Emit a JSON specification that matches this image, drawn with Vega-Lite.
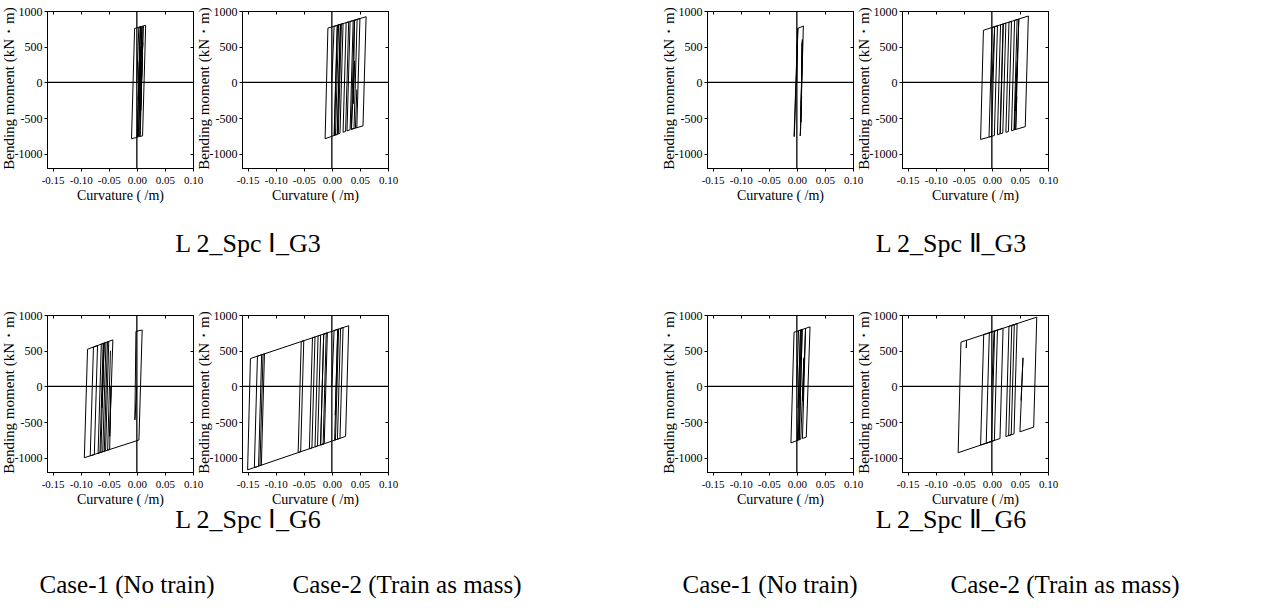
{
"$schema":"https://vega.github.io/schema/vega-lite/v6.json",
"padding":{"left":0,"top":4,"right":5,"bottom":5},
"background":"white",
"config":{
 "font":"Liberation Serif",
 "view":{"stroke":"black","strokeWidth":1},
 "axis":{"grid":false,"domainColor":"black","tickColor":"black","labelColor":"black","titleColor":"black","labelFont":"Liberation Serif","titleFont":"Liberation Serif","labelFontSize":12,"titleFontSize":14,"titleFontWeight":"normal","tickSize":3,"labelPadding":2,"domainWidth":1,"labelOverlap":false,"labelFlush":false},
 "axisY":{"titleFontSize":15,"titlePadding":-2,"titleY":77},
 "axisX":{"labelPadding":3,"titlePadding":3,"labelFontSize":11},
 "text":{"font":"Liberation Serif","color":"black"}
},
"datasets":{
"d1":[{"i":0,"x":0,"y":0},{"i":1,"x":0.0035,"y":772},{"i":2,"x":0.006,"y":778},{"i":3,"x":0.0005,"y":-770},{"i":4,"x":-0.0095,"y":-790},{"i":5,"x":-0.004,"y":755},{"i":6,"x":0.0157,"y":800},{"i":7,"x":0.0102,"y":-750},{"i":8,"x":0.006,"y":-758},{"i":9,"x":0.0113,"y":790},{"i":10,"x":0.0068,"y":-400},{"i":11,"x":0.0105,"y":560},{"i":12,"x":0.005,"y":-760},{"i":13,"x":0.0035,"y":-763},{"i":14,"x":0.009,"y":784},{"i":15,"x":0.0045,"y":-300},{"i":16,"x":0.0075,"y":500},{"i":17,"x":0.0025,"y":-765},{"i":18,"x":0.001,"y":-768},{"i":19,"x":0.0065,"y":780},{"i":20,"x":0.0025,"y":-250},{"i":21,"x":0.0045,"y":300}],
"d2":[{"i":0,"x":0,"y":0},{"i":1,"x":0.004,"y":786},{"i":2,"x":0.010,"y":800},{"i":3,"x":0.0045,"y":-743},{"i":4,"x":-0.012,"y":-790},{"i":5,"x":-0.007,"y":760},{"i":6,"x":0.015,"y":812},{"i":7,"x":0.0095,"y":-729},{"i":8,"x":0.004,"y":-745},{"i":9,"x":0.0095,"y":799},{"i":10,"x":0.0155,"y":813},{"i":11,"x":0.010,"y":-728},{"i":12,"x":0.0065,"y":-738},{"i":13,"x":0.012,"y":805},{"i":14,"x":0.020,"y":824},{"i":15,"x":0.0145,"y":-715},{"i":16,"x":0.0115,"y":-724},{"i":17,"x":0.017,"y":817},{"i":18,"x":0.030,"y":847},{"i":19,"x":0.0245,"y":-687},{"i":20,"x":0.020,"y":-699},{"i":21,"x":0.0255,"y":837},{"i":22,"x":0.038,"y":866},{"i":23,"x":0.0325,"y":-664},{"i":24,"x":0.027,"y":-680},{"i":25,"x":0.0325,"y":853},{"i":26,"x":0.045,"y":882},{"i":27,"x":0.0395,"y":-645},{"i":28,"x":0.0345,"y":-658},{"i":29,"x":0.040,"y":871},{"i":30,"x":0.061,"y":920},{"i":31,"x":0.0555,"y":-610},{"i":32,"x":0.035,"y":-657},{"i":33,"x":0.0405,"y":300},{"i":34,"x":0.038,"y":-300},{"i":35,"x":0.0405,"y":872},{"i":36,"x":0.050,"y":894},{"i":37,"x":0.0445,"y":-630},{"i":38,"x":0.042,"y":-637},{"i":39,"x":0.0445,"y":-100}],
"d3":[{"i":0,"x":0,"y":0},{"i":1,"x":0.0015,"y":755},{"i":2,"x":0.002,"y":757},{"i":3,"x":-0.0045,"y":-758},{"i":4,"x":-0.005,"y":-761},{"i":5,"x":0.0015,"y":755},{"i":6,"x":0.0116,"y":790},{"i":7,"x":0.0065,"y":-700},{"i":8,"x":0.006,"y":-750},{"i":9,"x":0.0085,"y":-200},{"i":10,"x":0.0075,"y":-400},{"i":11,"x":0.0095,"y":560},{"i":12,"x":0.0072,"y":-560},{"i":13,"x":0.0098,"y":600},{"i":14,"x":0.0078,"y":-300}],
"d4":[{"i":0,"x":0,"y":0},{"i":1,"x":0.005,"y":780},{"i":2,"x":-0.0005,"y":-756},{"i":3,"x":-0.02,"y":-800},{"i":4,"x":-0.015,"y":730},{"i":5,"x":0.010,"y":793},{"i":6,"x":0.0045,"y":-745},{"i":7,"x":-0.005,"y":-766},{"i":8,"x":0.0005,"y":769},{"i":9,"x":0.020,"y":818},{"i":10,"x":0.0145,"y":-722},{"i":11,"x":0.010,"y":-733},{"i":12,"x":0.0155,"y":806},{"i":13,"x":0.025,"y":830},{"i":14,"x":0.0195,"y":-711},{"i":15,"x":0.015,"y":-721},{"i":16,"x":0.0205,"y":819},{"i":17,"x":0.035,"y":855},{"i":18,"x":0.0295,"y":-689},{"i":19,"x":0.025,"y":-700},{"i":20,"x":0.0305,"y":843},{"i":21,"x":0.045,"y":880},{"i":22,"x":0.0395,"y":-666},{"i":23,"x":0.035,"y":-677},{"i":24,"x":0.0405,"y":869},{"i":25,"x":0.065,"y":930},{"i":26,"x":0.0595,"y":-621},{"i":27,"x":0.040,"y":-665},{"i":28,"x":0.0455,"y":300},{"i":29,"x":0.042,"y":-400},{"i":30,"x":0.048,"y":888},{"i":31,"x":0.0425,"y":-660},{"i":32,"x":0.0445,"y":-200}],
"d5":[{"i":0,"x":0,"y":0},{"i":1,"x":-0.0035,"y":-470},{"i":2,"x":-0.0016,"y":770},{"i":3,"x":0.0095,"y":790},{"i":4,"x":0.0037,"y":-752},{"i":5,"x":-0.0935,"y":-1000},{"i":6,"x":-0.0878,"y":521},{"i":7,"x":-0.070,"y":572},{"i":8,"x":-0.0757,"y":-955},{"i":9,"x":-0.083,"y":-973},{"i":10,"x":-0.0773,"y":551},{"i":11,"x":-0.060,"y":601},{"i":12,"x":-0.0657,"y":-929},{"i":13,"x":-0.069,"y":-938},{"i":14,"x":-0.0633,"y":593},{"i":15,"x":-0.055,"y":616},{"i":16,"x":-0.0607,"y":-916},{"i":17,"x":-0.064,"y":-925},{"i":18,"x":-0.0583,"y":606},{"i":19,"x":-0.062,"y":-300},{"i":20,"x":-0.0583,"y":606},{"i":21,"x":-0.050,"y":630},{"i":22,"x":-0.0557,"y":-904},{"i":23,"x":-0.058,"y":-910},{"i":24,"x":-0.0523,"y":623},{"i":25,"x":-0.0427,"y":651},{"i":26,"x":-0.0484,"y":-700},{"i":27,"x":-0.046,"y":0},{"i":28,"x":-0.0484,"y":-885},{"i":29,"x":-0.052,"y":-894},{"i":30,"x":-0.047,"y":500}],
"d6":[{"i":0,"x":0,"y":0},{"i":1,"x":0.004,"y":782},{"i":2,"x":0.012,"y":803},{"i":3,"x":0.0065,"y":-750},{"i":4,"x":-0.020,"y":-821},{"i":5,"x":-0.0145,"y":733},{"i":6,"x":-0.008,"y":750},{"i":7,"x":-0.0135,"y":-803},{"i":8,"x":-0.150,"y":-1170},{"i":9,"x":-0.145,"y":390},{"i":10,"x":-0.125,"y":443},{"i":11,"x":-0.1305,"y":-1118},{"i":12,"x":-0.138,"y":-1138},{"i":13,"x":-0.1325,"y":423},{"i":14,"x":-0.120,"y":456},{"i":15,"x":-0.1255,"y":-1104},{"i":16,"x":-0.128,"y":-1111},{"i":17,"x":-0.1225,"y":449},{"i":18,"x":-0.050,"y":640},{"i":19,"x":-0.0555,"y":-916},{"i":20,"x":-0.060,"y":-928},{"i":21,"x":-0.0545,"y":628},{"i":22,"x":-0.030,"y":692},{"i":23,"x":-0.0355,"y":-862},{"i":24,"x":-0.040,"y":-875},{"i":25,"x":-0.0345,"y":681},{"i":26,"x":-0.020,"y":719},{"i":27,"x":-0.0255,"y":-836},{"i":28,"x":-0.030,"y":-848},{"i":29,"x":-0.0245,"y":707},{"i":30,"x":-0.010,"y":745},{"i":31,"x":-0.0155,"y":-809},{"i":32,"x":-0.020,"y":-821},{"i":33,"x":-0.0145,"y":733},{"i":34,"x":0.030,"y":850},{"i":35,"x":0.0245,"y":-701},{"i":36,"x":0.010,"y":-740},{"i":37,"x":0.0155,"y":812},{"i":38,"x":0.020,"y":824},{"i":39,"x":0.0145,"y":-728},{"i":40,"x":0.005,"y":-754},{"i":41,"x":0.0105,"y":800},{"i":42,"x":0.006,"y":-400}],
"d7":[{"i":0,"x":0,"y":0},{"i":1,"x":0.003,"y":779},{"i":2,"x":0.008,"y":793},{"i":3,"x":0.0025,"y":-753},{"i":4,"x":-0.0105,"y":-792},{"i":5,"x":-0.005,"y":758},{"i":6,"x":0.0235,"y":834},{"i":7,"x":0.0168,"y":-711},{"i":8,"x":0.010,"y":-731},{"i":9,"x":0.0155,"y":813},{"i":10,"x":0.0105,"y":-200},{"i":11,"x":0.0125,"y":400},{"i":12,"x":0.007,"y":-740},{"i":13,"x":0.004,"y":-749},{"i":14,"x":0.0095,"y":797},{"i":15,"x":0.0045,"y":-748},{"i":16,"x":0.001,"y":-758},{"i":17,"x":0.0065,"y":789},{"i":18,"x":0.002,"y":-300}],
"d8":[{"i":0,"x":0,"y":0},{"i":1,"x":0.004,"y":773},{"i":2,"x":0.010,"y":789},{"i":3,"x":0.0045,"y":-758},{"i":4,"x":-0.010,"y":-797},{"i":5,"x":-0.0045,"y":751},{"i":6,"x":0.020,"y":815},{"i":7,"x":0.0145,"y":-731},{"i":8,"x":-0.020,"y":-823},{"i":9,"x":-0.0145,"y":725},{"i":10,"x":0.005,"y":776},{"i":11,"x":-0.0005,"y":-771},{"i":12,"x":-0.060,"y":-930},{"i":13,"x":-0.055,"y":620},{"i":14,"x":-0.045,"y":646},{"i":15,"x":-0.0455,"y":540},{"i":16,"x":-0.045,"y":646},{"i":17,"x":0.040,"y":866},{"i":18,"x":0.0345,"y":-678},{"i":19,"x":0.025,"y":-703},{"i":20,"x":0.0305,"y":842},{"i":21,"x":0.045,"y":879},{"i":22,"x":0.0395,"y":-665},{"i":23,"x":0.030,"y":-690},{"i":24,"x":0.0355,"y":855},{"i":25,"x":0.080,"y":970},{"i":26,"x":0.0745,"y":-571},{"i":27,"x":0.050,"y":-637},{"i":28,"x":0.0555,"y":400},{"i":29,"x":0.052,"y":-200}],
"zero":[{"z":0}],
"blank":[{"t":""}]
},
"concat":[
 {"width":146,"height":157,"resolve":{"axis":{"x":"independent","y":"independent"}},"layer":[
  {"data":{"name":"d1"},"mark":{"type":"line","color":"black","strokeWidth":1},"encoding":{"x":{"field":"x","type":"quantitative","scale":{"domain":[-0.16,0.1],"nice":false,"zero":false},"axis":{"title":"Curvature ( /m)","values":[-0.15,-0.1,-0.05,0,0.05,0.1],"labelExpr":"datum.value < 0 ? '-' + format(-datum.value, '.2f') : format(datum.value, '.2f')"}},"y":{"field":"y","type":"quantitative","scale":{"domain":[-1200,1000],"nice":false,"zero":false},"axis":{"title":"Bending moment (kN・m)","values":[-1000,-500,0,500,1000],"labelExpr":"datum.value < 0 ? '-' + format(-datum.value, 'd') : format(datum.value, 'd')"}},"order":{"field":"i","type":"quantitative"}}},
  {"data":{"name":"zero"},"mark":{"type":"rule","color":"black","strokeWidth":1.3},"encoding":{"y":{"field":"z","type":"quantitative","axis":{"orient":"right","labels":false,"title":null,"tickSize":-3,"values":[-1000,-500,500,1000]}}}},
  {"data":{"name":"zero"},"mark":{"type":"rule","color":"black","strokeWidth":1.3},"encoding":{"x":{"field":"z","type":"quantitative","axis":{"orient":"top","labels":false,"title":null,"tickSize":-3,"values":[-0.15,-0.1,-0.05,0.05,0.1]}}}}
 ]},
 {"width":146,"height":157,"resolve":{"axis":{"x":"independent","y":"independent"}},"layer":[
  {"data":{"name":"d2"},"mark":{"type":"line","color":"black","strokeWidth":1},"encoding":{"x":{"field":"x","type":"quantitative","scale":{"domain":[-0.16,0.1],"nice":false,"zero":false},"axis":{"title":"Curvature ( /m)","values":[-0.15,-0.1,-0.05,0,0.05,0.1],"labelExpr":"datum.value < 0 ? '-' + format(-datum.value, '.2f') : format(datum.value, '.2f')"}},"y":{"field":"y","type":"quantitative","scale":{"domain":[-1200,1000],"nice":false,"zero":false},"axis":{"title":"Bending moment (kN・m)","values":[-1000,-500,0,500,1000],"labelExpr":"datum.value < 0 ? '-' + format(-datum.value, 'd') : format(datum.value, 'd')"}},"order":{"field":"i","type":"quantitative"}}},
  {"data":{"name":"zero"},"mark":{"type":"rule","color":"black","strokeWidth":1.3},"encoding":{"y":{"field":"z","type":"quantitative","axis":{"orient":"right","labels":false,"title":null,"tickSize":-3,"values":[-1000,-500,500,1000]}}}},
  {"data":{"name":"zero"},"mark":{"type":"rule","color":"black","strokeWidth":1.3},"encoding":{"x":{"field":"z","type":"quantitative","axis":{"orient":"top","labels":false,"title":null,"tickSize":-3,"values":[-0.15,-0.1,-0.05,0.05,0.1]}}}}
 ]},
 {"width":221,"height":1,"view":{"stroke":null},"data":{"name":"blank"},"mark":"text","encoding":{"text":{"field":"t"}}},
 {"width":146,"height":157,"resolve":{"axis":{"x":"independent","y":"independent"}},"layer":[
  {"data":{"name":"d3"},"mark":{"type":"line","color":"black","strokeWidth":1},"encoding":{"x":{"field":"x","type":"quantitative","scale":{"domain":[-0.16,0.1],"nice":false,"zero":false},"axis":{"title":"Curvature ( /m)","values":[-0.15,-0.1,-0.05,0,0.05,0.1],"labelExpr":"datum.value < 0 ? '-' + format(-datum.value, '.2f') : format(datum.value, '.2f')"}},"y":{"field":"y","type":"quantitative","scale":{"domain":[-1200,1000],"nice":false,"zero":false},"axis":{"title":"Bending moment (kN・m)","values":[-1000,-500,0,500,1000],"labelExpr":"datum.value < 0 ? '-' + format(-datum.value, 'd') : format(datum.value, 'd')"}},"order":{"field":"i","type":"quantitative"}}},
  {"data":{"name":"zero"},"mark":{"type":"rule","color":"black","strokeWidth":1.3},"encoding":{"y":{"field":"z","type":"quantitative","axis":{"orient":"right","labels":false,"title":null,"tickSize":-3,"values":[-1000,-500,500,1000]}}}},
  {"data":{"name":"zero"},"mark":{"type":"rule","color":"black","strokeWidth":1.3},"encoding":{"x":{"field":"z","type":"quantitative","axis":{"orient":"top","labels":false,"title":null,"tickSize":-3,"values":[-0.15,-0.1,-0.05,0.05,0.1]}}}}
 ]},
 {"width":146,"height":157,"resolve":{"axis":{"x":"independent","y":"independent"}},"layer":[
  {"data":{"name":"d4"},"mark":{"type":"line","color":"black","strokeWidth":1},"encoding":{"x":{"field":"x","type":"quantitative","scale":{"domain":[-0.16,0.1],"nice":false,"zero":false},"axis":{"title":"Curvature ( /m)","values":[-0.15,-0.1,-0.05,0,0.05,0.1],"labelExpr":"datum.value < 0 ? '-' + format(-datum.value, '.2f') : format(datum.value, '.2f')"}},"y":{"field":"y","type":"quantitative","scale":{"domain":[-1200,1000],"nice":false,"zero":false},"axis":{"title":"Bending moment (kN・m)","values":[-1000,-500,0,500,1000],"labelExpr":"datum.value < 0 ? '-' + format(-datum.value, 'd') : format(datum.value, 'd')"}},"order":{"field":"i","type":"quantitative"}}},
  {"data":{"name":"zero"},"mark":{"type":"rule","color":"black","strokeWidth":1.3},"encoding":{"y":{"field":"z","type":"quantitative","axis":{"orient":"right","labels":false,"title":null,"tickSize":-3,"values":[-1000,-500,500,1000]}}}},
  {"data":{"name":"zero"},"mark":{"type":"rule","color":"black","strokeWidth":1.3},"encoding":{"x":{"field":"z","type":"quantitative","axis":{"orient":"top","labels":false,"title":null,"tickSize":-3,"values":[-0.15,-0.1,-0.05,0.05,0.1]}}}}
 ]},

 {"width":146,"height":139,"view":{"stroke":null},"data":{"name":"blank"},"mark":"text","encoding":{"text":{"field":"t"}}},
 {"width":146,"height":139,"view":{"stroke":null},"data":{"values":[{"t":"L 2_Spc Ⅰ_G3"}]},"mark":{"type":"text","fontSize":26,"dx":-67,"dy":2},"encoding":{"text":{"field":"t"}}},
 {"width":1,"height":1,"view":{"stroke":null},"data":{"name":"blank"},"mark":"text","encoding":{"text":{"field":"t"}}},
 {"width":146,"height":139,"view":{"stroke":null},"data":{"name":"blank"},"mark":"text","encoding":{"text":{"field":"t"}}},
 {"width":146,"height":139,"view":{"stroke":null},"data":{"values":[{"t":"L 2_Spc Ⅱ_G3"}]},"mark":{"type":"text","fontSize":26,"dx":-24,"dy":2},"encoding":{"text":{"field":"t"}}},

 {"width":146,"height":157,"resolve":{"axis":{"x":"independent","y":"independent"}},"layer":[
  {"data":{"name":"d5"},"mark":{"type":"line","color":"black","strokeWidth":1},"encoding":{"x":{"field":"x","type":"quantitative","scale":{"domain":[-0.16,0.1],"nice":false,"zero":false},"axis":{"title":"Curvature ( /m)","values":[-0.15,-0.1,-0.05,0,0.05,0.1],"labelExpr":"datum.value < 0 ? '-' + format(-datum.value, '.2f') : format(datum.value, '.2f')"}},"y":{"field":"y","type":"quantitative","scale":{"domain":[-1200,1000],"nice":false,"zero":false},"axis":{"title":"Bending moment (kN・m)","values":[-1000,-500,0,500,1000],"labelExpr":"datum.value < 0 ? '-' + format(-datum.value, 'd') : format(datum.value, 'd')"}},"order":{"field":"i","type":"quantitative"}}},
  {"data":{"name":"zero"},"mark":{"type":"rule","color":"black","strokeWidth":1.3},"encoding":{"y":{"field":"z","type":"quantitative","axis":{"orient":"right","labels":false,"title":null,"tickSize":-3,"values":[-1000,-500,500,1000]}}}},
  {"data":{"name":"zero"},"mark":{"type":"rule","color":"black","strokeWidth":1.3},"encoding":{"x":{"field":"z","type":"quantitative","axis":{"orient":"top","labels":false,"title":null,"tickSize":-3,"values":[-0.15,-0.1,-0.05,0.05,0.1]}}}}
 ]},
 {"width":146,"height":157,"resolve":{"axis":{"x":"independent","y":"independent"}},"layer":[
  {"data":{"name":"d6"},"mark":{"type":"line","color":"black","strokeWidth":1},"encoding":{"x":{"field":"x","type":"quantitative","scale":{"domain":[-0.16,0.1],"nice":false,"zero":false},"axis":{"title":"Curvature ( /m)","values":[-0.15,-0.1,-0.05,0,0.05,0.1],"labelExpr":"datum.value < 0 ? '-' + format(-datum.value, '.2f') : format(datum.value, '.2f')"}},"y":{"field":"y","type":"quantitative","scale":{"domain":[-1200,1000],"nice":false,"zero":false},"axis":{"title":"Bending moment (kN・m)","values":[-1000,-500,0,500,1000],"labelExpr":"datum.value < 0 ? '-' + format(-datum.value, 'd') : format(datum.value, 'd')"}},"order":{"field":"i","type":"quantitative"}}},
  {"data":{"name":"zero"},"mark":{"type":"rule","color":"black","strokeWidth":1.3},"encoding":{"y":{"field":"z","type":"quantitative","axis":{"orient":"right","labels":false,"title":null,"tickSize":-3,"values":[-1000,-500,500,1000]}}}},
  {"data":{"name":"zero"},"mark":{"type":"rule","color":"black","strokeWidth":1.3},"encoding":{"x":{"field":"z","type":"quantitative","axis":{"orient":"top","labels":false,"title":null,"tickSize":-3,"values":[-0.15,-0.1,-0.05,0.05,0.1]}}}}
 ]},
 {"width":1,"height":1,"view":{"stroke":null},"data":{"name":"blank"},"mark":"text","encoding":{"text":{"field":"t"}}},
 {"width":146,"height":157,"resolve":{"axis":{"x":"independent","y":"independent"}},"layer":[
  {"data":{"name":"d7"},"mark":{"type":"line","color":"black","strokeWidth":1},"encoding":{"x":{"field":"x","type":"quantitative","scale":{"domain":[-0.16,0.1],"nice":false,"zero":false},"axis":{"title":"Curvature ( /m)","values":[-0.15,-0.1,-0.05,0,0.05,0.1],"labelExpr":"datum.value < 0 ? '-' + format(-datum.value, '.2f') : format(datum.value, '.2f')"}},"y":{"field":"y","type":"quantitative","scale":{"domain":[-1200,1000],"nice":false,"zero":false},"axis":{"title":"Bending moment (kN・m)","values":[-1000,-500,0,500,1000],"labelExpr":"datum.value < 0 ? '-' + format(-datum.value, 'd') : format(datum.value, 'd')"}},"order":{"field":"i","type":"quantitative"}}},
  {"data":{"name":"zero"},"mark":{"type":"rule","color":"black","strokeWidth":1.3},"encoding":{"y":{"field":"z","type":"quantitative","axis":{"orient":"right","labels":false,"title":null,"tickSize":-3,"values":[-1000,-500,500,1000]}}}},
  {"data":{"name":"zero"},"mark":{"type":"rule","color":"black","strokeWidth":1.3},"encoding":{"x":{"field":"z","type":"quantitative","axis":{"orient":"top","labels":false,"title":null,"tickSize":-3,"values":[-0.15,-0.1,-0.05,0.05,0.1]}}}}
 ]},
 {"width":146,"height":157,"resolve":{"axis":{"x":"independent","y":"independent"}},"layer":[
  {"data":{"name":"d8"},"mark":{"type":"line","color":"black","strokeWidth":1},"encoding":{"x":{"field":"x","type":"quantitative","scale":{"domain":[-0.16,0.1],"nice":false,"zero":false},"axis":{"title":"Curvature ( /m)","values":[-0.15,-0.1,-0.05,0,0.05,0.1],"labelExpr":"datum.value < 0 ? '-' + format(-datum.value, '.2f') : format(datum.value, '.2f')"}},"y":{"field":"y","type":"quantitative","scale":{"domain":[-1200,1000],"nice":false,"zero":false},"axis":{"title":"Bending moment (kN・m)","values":[-1000,-500,0,500,1000],"labelExpr":"datum.value < 0 ? '-' + format(-datum.value, 'd') : format(datum.value, 'd')"}},"order":{"field":"i","type":"quantitative"}}},
  {"data":{"name":"zero"},"mark":{"type":"rule","color":"black","strokeWidth":1.3},"encoding":{"y":{"field":"z","type":"quantitative","axis":{"orient":"right","labels":false,"title":null,"tickSize":-3,"values":[-1000,-500,500,1000]}}}},
  {"data":{"name":"zero"},"mark":{"type":"rule","color":"black","strokeWidth":1.3},"encoding":{"x":{"field":"z","type":"quantitative","axis":{"orient":"top","labels":false,"title":null,"tickSize":-3,"values":[-0.15,-0.1,-0.05,0.05,0.1]}}}}
 ]},

 {"width":146,"height":86,"view":{"stroke":null},"data":{"name":"blank"},"mark":"text","encoding":{"text":{"field":"t"}}},
 {"width":146,"height":86,"view":{"stroke":null},"data":{"values":[{"t":"L 2_Spc Ⅰ_G6"}]},"mark":{"type":"text","fontSize":26,"dx":-67,"dy":1},"encoding":{"text":{"field":"t"}}},
 {"width":1,"height":1,"view":{"stroke":null},"data":{"name":"blank"},"mark":"text","encoding":{"text":{"field":"t"}}},
 {"width":146,"height":86,"view":{"stroke":null},"data":{"name":"blank"},"mark":"text","encoding":{"text":{"field":"t"}}},
 {"width":146,"height":86,"view":{"stroke":null},"data":{"values":[{"t":"L 2_Spc Ⅱ_G6"}]},"mark":{"type":"text","fontSize":26,"dx":-24,"dy":1},"encoding":{"text":{"field":"t"}}},

 {"width":146,"height":30,"view":{"stroke":null},"data":{"values":[{"t":"Case-1 (No train)"}]},"mark":{"type":"text","fontSize":25,"dx":7,"dy":4},"encoding":{"text":{"field":"t"}}},
 {"width":146,"height":30,"view":{"stroke":null},"data":{"values":[{"t":"Case-2 (Train as mass)"}]},"mark":{"type":"text","fontSize":25,"dx":92,"dy":4},"encoding":{"text":{"field":"t"}}},
 {"width":1,"height":1,"view":{"stroke":null},"data":{"name":"blank"},"mark":"text","encoding":{"text":{"field":"t"}}},
 {"width":146,"height":30,"view":{"stroke":null},"data":{"values":[{"t":"Case-1 (No train)"}]},"mark":{"type":"text","fontSize":25,"dx":-10,"dy":4},"encoding":{"text":{"field":"t"}}},
 {"width":146,"height":30,"view":{"stroke":null},"data":{"values":[{"t":"Case-2 (Train as mass)"}]},"mark":{"type":"text","fontSize":25,"dx":90,"dy":4},"encoding":{"text":{"field":"t"}}}
],
"columns":5,
"spacing":{"row":4,"column":49},
"bounds":"flush"
}
